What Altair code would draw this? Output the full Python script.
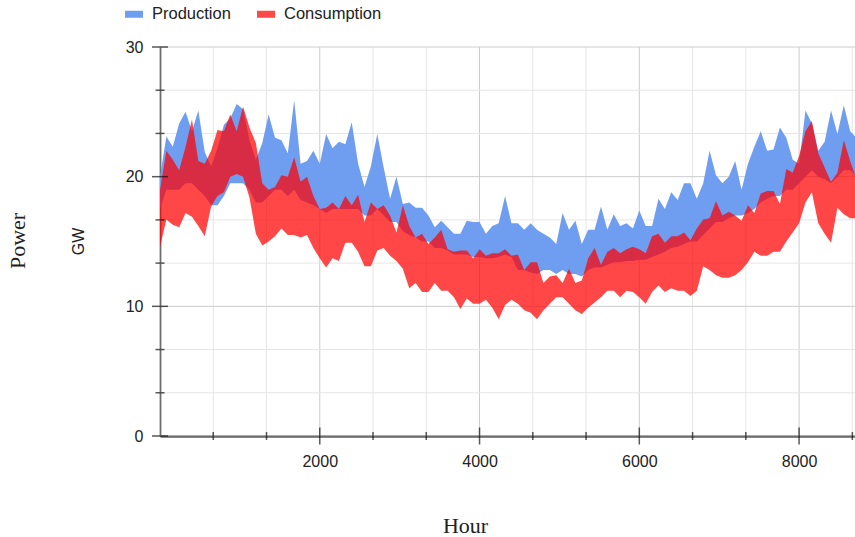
import altair as alt
import pandas as pd

hours = list(range(0, 8721, 80))

prod_hi = [20.0, 23.1, 22.3, 24.1, 25.0, 23.5, 25.1, 21.9, 20.8, 22.2, 24.0, 24.5, 25.6, 25.2, 22.8, 21.3, 22.6, 24.8, 23.0, 22.8, 21.8, 25.9, 21.0, 21.2, 22.0, 21.0, 23.3, 22.2,
           22.7, 22.5, 24.2, 21.0, 19.2, 20.8, 23.3, 20.7, 18.3, 20.0, 17.9, 18.0, 17.6, 17.6, 17.0, 16.1, 16.6, 16.1, 15.6, 15.6, 16.6, 16.5, 16.5, 15.6, 16.2, 16.4, 18.5, 16.4,
           16.4, 15.9, 16.4, 15.9, 15.6, 15.3, 14.8, 17.2, 15.9, 16.6, 14.8, 15.9, 15.9, 17.7, 15.9, 17.1, 16.2, 16.4, 16.0, 17.4, 16.2, 16.2, 18.3, 17.5, 18.8, 18.2, 19.5, 19.5,
           18.3, 19.5, 22.0, 20.1, 19.5, 20.0, 21.2, 19.0, 21.0, 22.3, 23.5, 22.0, 22.1, 23.8, 23.0, 21.3, 21.0, 25.1, 24.1, 22.0, 22.7, 25.1, 23.3, 25.5, 23.5, 23.0]
prod_lo = [17.5, 19.0, 19.0, 19.0, 19.5, 19.5, 19.0, 18.5, 17.8, 17.8, 18.5, 19.5, 19.5, 19.5, 19.0, 18.0, 18.0, 18.5, 19.0, 19.0, 18.5, 19.0, 18.2, 18.0, 17.8, 17.5, 17.2, 17.5,
           17.5, 17.5, 17.5, 17.5, 17.0, 17.0, 17.5, 17.0, 16.5, 16.5, 15.8, 15.5, 15.3, 15.0, 15.0, 14.5, 14.5, 14.3, 14.0, 14.0, 14.0, 13.8, 13.8, 13.7, 13.7, 13.8, 14.0, 13.8,
           12.8, 12.8, 12.6, 12.5, 12.8, 12.8, 12.5, 12.8, 12.5, 12.5, 12.3, 12.8, 13.0, 13.0, 13.2, 13.4, 13.4, 13.5, 13.5, 13.6, 13.6, 13.8, 14.0, 14.2, 14.5, 14.6, 14.8, 15.0,
           15.0, 15.5, 16.0, 16.5, 16.5, 16.8, 17.0, 17.0, 17.2, 17.5, 18.0, 18.3, 18.5, 18.5, 19.0, 19.0, 19.5, 20.0, 20.5, 20.0, 19.8, 19.5, 20.0, 20.5, 20.5, 20.0]
cons_hi = [19.0, 22.0, 21.3, 20.5, 22.3, 24.4, 21.2, 21.0, 22.0, 23.6, 23.5, 24.8, 23.5, 25.4, 23.8, 22.6, 19.5, 19.0, 19.2, 20.1, 20.0, 21.5, 19.6, 20.0, 18.5, 17.5, 17.6, 18.0,
           17.5, 18.5, 17.8, 18.6, 16.5, 18.0, 17.5, 17.8, 17.0, 15.7, 17.8, 16.2, 15.3, 15.6, 14.8, 15.3, 15.9, 14.4, 14.2, 14.3, 14.3, 13.7, 14.4, 13.9, 14.1, 14.1, 14.4, 13.9,
           14.0, 12.8, 13.4, 13.4, 11.8, 12.3, 12.4, 11.8, 12.9, 11.8, 12.0, 13.7, 14.5, 13.2, 14.2, 14.5, 14.1, 14.4, 14.6, 14.4, 14.1, 15.4, 15.6, 14.9, 15.4, 15.4, 15.7, 15.1,
           16.0, 16.7, 16.8, 18.1, 17.0, 17.3, 17.0, 16.6, 17.8, 17.2, 18.7, 18.9, 18.9, 17.9, 20.6, 20.3, 21.6, 23.5, 24.3, 21.8, 20.7, 19.6, 20.3, 22.8, 21.2, 19.8]
cons_lo = [14.6, 16.7, 16.3, 16.1, 17.2, 16.9, 16.2, 15.4, 17.7, 18.5, 18.8, 20.0, 20.2, 20.0, 18.4, 15.6, 14.7, 15.0, 15.4, 16.0, 15.5, 15.5, 15.3, 15.5, 14.5, 13.7, 13.0, 13.7,
           13.5, 14.9, 14.9, 14.2, 13.1, 13.1, 14.3, 14.5, 13.9, 13.5, 12.9, 11.4, 11.8, 11.1, 11.1, 11.8, 11.2, 11.2, 10.7, 9.8, 10.6, 10.2, 10.2, 10.5, 9.9, 9.0, 10.1, 10.5,
           10.2, 9.7, 9.5, 9.0, 9.7, 10.2, 10.7, 10.7, 10.2, 9.7, 9.4, 9.9, 10.3, 10.7, 11.2, 11.2, 10.7, 11.2, 11.1, 10.7, 10.2, 11.1, 11.6, 11.1, 11.4, 11.2, 11.2, 10.8,
           11.2, 13.1, 12.8, 12.4, 12.2, 12.2, 12.4, 12.8, 13.4, 14.2, 13.9, 13.9, 14.2, 14.2, 15.0, 15.7, 16.4, 18.0, 18.8, 16.4, 15.6, 14.9, 17.6, 17.1, 16.8, 16.8]

series_names = ["Production", "Consumption"]
legend_colors = ["#6f9ef0", "#ff4848"]
prod_color = "#6f9ef0"
cons_color = "#ff0000"

x_grid = [i * 2000 / 3 for i in range(14)]
y_grid = [i * 10 / 3 for i in range(10)]
x_labels = [2000, 4000, 6000, 8000]
y_labels = [0, 10, 20, 30]

# ---- tables ----
df_p = pd.DataFrame({"hour": hours, "lo": prod_lo, "hi": prod_hi, "series": series_names[0]})
df_c = pd.DataFrame({"hour": hours, "lo": cons_lo, "hi": cons_hi, "series": series_names[1]})
xg = pd.DataFrame({"v": x_grid, "major": [abs(v / 2000 - round(v / 2000)) < 1e-6 for v in x_grid]})
yg = pd.DataFrame({"v": y_grid, "major": [abs(v / 10 - round(v / 10)) < 1e-6 for v in y_grid]})

x_scale = alt.Scale(domain=[0, 8700], nice=False, zero=False)
y_scale = alt.Scale(domain=[0, 30], nice=False)
color_scale = alt.Scale(domain=series_names, range=legend_colors)

x_axis = alt.Axis(values=x_labels, format="d", grid=False, ticks=False, domainColor="#111", domainWidth=2,
                  labelPadding=17, labelFlush=False, labelFont="Liberation Sans", labelFontSize=16,
                  labelColor="#222", title="Hour", titleFont="Liberation Serif", titleFontSize=22,
                  titleFontWeight="normal", titleColor="#222", titleX=305, titleY=89,
                  titleAlign="center", titleBaseline="middle")
y_axis = alt.Axis(values=y_labels, format="d", grid=False, ticks=False, domainColor="#111", domainWidth=1.5,
                  labelPadding=17, labelFlush=False, labelFont="Liberation Sans", labelFontSize=16,
                  labelColor="#222", title="GW", titleFont="Liberation Sans", titleFontSize=16,
                  titleFontWeight="normal", titleColor="#222", titleX=-82, titleY=194, titleAngle=270,
                  titleAlign="center", titleBaseline="middle")


def X(field):
    return alt.X(field, scale=x_scale, axis=x_axis, title="Hour")


def Y(field):
    return alt.Y(field, scale=y_scale, axis=y_axis, title="GW", stack=None)


gridx = alt.Chart(xg).mark_rule(strokeWidth=1).encode(
    x=X("v:Q"),
    stroke=alt.condition("datum.major", alt.value("#cccccc"), alt.value("#e6e6e6")),
)
gridy = alt.Chart(yg).mark_rule(strokeWidth=1).encode(
    y=Y("v:Q"),
    stroke=alt.condition("datum.major", alt.value("#cccccc"), alt.value("#e6e6e6")),
)

legend = alt.Legend(title=None, orient="none", legendX=-35, legendY=-42, direction="horizontal",
                    symbolType="M-1,-0.39H1V0.39H-1Z", symbolSize=324, symbolStrokeWidth=0,
                    symbolOpacity=1, labelFont="Liberation Sans", labelFontSize=16.5, labelColor="#222",
                    labelOffset=9, columnPadding=26, padding=0)

area_p = alt.Chart(df_p).mark_area(opacity=1, clip=True, interpolate="linear").encode(
    x=X("hour:Q"),
    y=Y("lo:Q"),
    y2="hi:Q",
    color=alt.Color("series:N", scale=color_scale, legend=legend),
)
area_c = alt.Chart(df_c).mark_area(color=cons_color, opacity=0.72, clip=True, interpolate="linear").encode(
    x=X("hour:Q"),
    y=Y("lo:Q"),
    y2="hi:Q",
)

tick_color = "#111"
ytick_major = alt.Chart(yg[yg.major]).mark_tick(orient="horizontal", size=16, thickness=1.5, color=tick_color).encode(
    y=Y("v:Q"), x=alt.XDatum(0, scale=x_scale, axis=x_axis, title="Hour"))
ytick_minor = alt.Chart(yg[~yg.major]).mark_tick(orient="horizontal", size=9, thickness=1.5, color=tick_color).encode(
    y=Y("v:Q"), x=alt.XDatum(0, scale=x_scale, axis=x_axis, title="Hour"))
xtick_major = alt.Chart(xg[xg.major & (xg.v > 0)]).mark_tick(orient="vertical", size=17, thickness=1.5, color=tick_color).encode(
    x=X("v:Q"), y=alt.YDatum(0, scale=y_scale, axis=y_axis, title="GW"))
xtick_minor = alt.Chart(xg[~xg.major]).mark_tick(orient="vertical", size=8, thickness=1.5, color=tick_color).encode(
    x=X("v:Q"), y=alt.YDatum(0, scale=y_scale, axis=y_axis, title="GW"))

power = alt.Chart(pd.DataFrame({"t": ["Power"]})).mark_text(
    font="Liberation Serif", fontSize=22, angle=270, align="center", baseline="middle", color="#222"
).encode(text="t:N", x=alt.value(-142), y=alt.value(194))

chart = alt.layer(
    gridx, gridy, area_p, area_c, ytick_major, ytick_minor, xtick_major, xtick_minor, power
).properties(
    width=695, height=389,
    autosize=alt.AutoSizeParams(type="none"),
    padding={"left": 160, "top": 47, "right": 0, "bottom": 101},
).configure_view(strokeWidth=0)

chart.save("out.html", embed_options={"renderer": "svg", "actions": False})
